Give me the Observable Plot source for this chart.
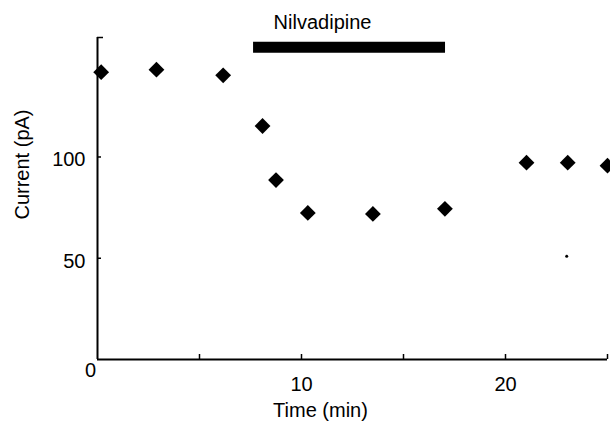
<!DOCTYPE html>
<html>
<head>
<meta charset="utf-8">
<script src="https://cdn.jsdelivr.net/npm/d3@7"></script>
<script src="https://cdn.jsdelivr.net/npm/@observablehq/plot@0.6"></script>
<style>
  html, body { margin: 0; padding: 0; background: #fff; }
  #chart svg { display: block; }
  #chart g[aria-label="x-axis tick label"], #chart g[aria-label="y-axis tick label"] { font-size: 20px; }
</style>
</head>
<body>
<div id="chart"></div>
<script>
// Data
const timeMin = [0.18, 2.89, 6.16, 8.09, 8.75, 10.31, 13.5, 17.03, 21.03, 23.05, 25.0];
const currentPA = [141.9, 143.1, 140.3, 115.3, 88.6, 72.4, 71.9, 74.4, 97.2, 97.2, 95.7];
const speckTime = [23.0];
const speckCurrent = [51];
const drugName = ["Nilvadipine"];
const drugStart = [7.65];
const drugEnd = [17.06];
const drugLevel = [154.2];
const xTickMarks = [5, 10, 15, 20, 25];
const xTickLabels = [10, 20];
const yTickLabels = [50, 100];
const yTop = 159;
const xTitle = ["Time (min)"];
const yTitle = ["Current (pA)"];

const points = timeMin.map((t, i) => ({t, c: currentPA[i]}));
const specks = speckTime.map((t, i) => ({t, c: speckCurrent[i]}));
const drug = drugName.map((name, i) => ({name, x1: drugStart[i], x2: drugEnd[i], y: drugLevel[i], mid: (drugStart[i] + drugEnd[i]) / 2}));

const font = "'Liberation Sans', Arial, sans-serif";

const chart = Plot.plot({
  width: 610,
  height: 423,
  marginLeft: 97,
  marginRight: 3,
  marginTop: 37,
  marginBottom: 64,
  style: {fontFamily: font, fontSize: "19px", color: "#000", background: "#fff", overflow: "visible"},
  x: {domain: [0, 25]},
  y: {domain: [0, yTop]},
  marks: [
    // axis lines
    Plot.ruleX([0], {stroke: "#000", strokeWidth: 2}),
    Plot.ruleY([0], {stroke: "#000", strokeWidth: 2}),
    // x axis: inward ticks
    Plot.axisX({ticks: xTickMarks, tickSize: -5, text: null, strokeWidth: 1.5}),
    Plot.axisX({ticks: xTickLabels, tickSize: 0, tickPadding: 17, tickFormat: d => String(d)}),
    Plot.axisX({ticks: [0], tickSize: 0, tickPadding: 3, dx: -7, tickFormat: d => String(d)}),
    // y axis: inward ticks
    Plot.axisY({ticks: yTickLabels, tickSize: -4, text: null, strokeWidth: 1.5}),
    Plot.axisY({ticks: [yTop], tickSize: -6, text: null, strokeWidth: 1.5}),
    Plot.axisY({ticks: yTickLabels, tickSize: 0, tickPadding: 12, dy: 3, tickFormat: d => String(d), label: null}),
    // axis titles
    Plot.text(xTitle, {frameAnchor: "bottom", textAnchor: "middle", lineAnchor: "middle", dx: -32, dy: 51, fontSize: 20, fill: "#000"}),
    Plot.text(yTitle, {frameAnchor: "left", textAnchor: "middle", lineAnchor: "middle", rotate: -90, dx: -75, dy: -34, fontSize: 20, fill: "#000"}),
    // drug application bar
    Plot.ruleY(drug, {x1: "x1", x2: "x2", y: "y", stroke: "#000", strokeWidth: 11}),
    Plot.text(drug, {x: "mid", y: "y", text: "name", dx: -27, dy: -25, fontSize: 20, fill: "#000"}),
    // data
    Plot.dot(points, {x: "t", y: "c", symbol: "square", r: 6.3, rotate: 45, fill: "#000", stroke: "none"}),
    Plot.dot(specks, {x: "t", y: "c", r: 1.5, fill: "#000", stroke: "none"})
  ]
});
document.getElementById("chart").appendChild(chart);
</script>
</body>
</html>
